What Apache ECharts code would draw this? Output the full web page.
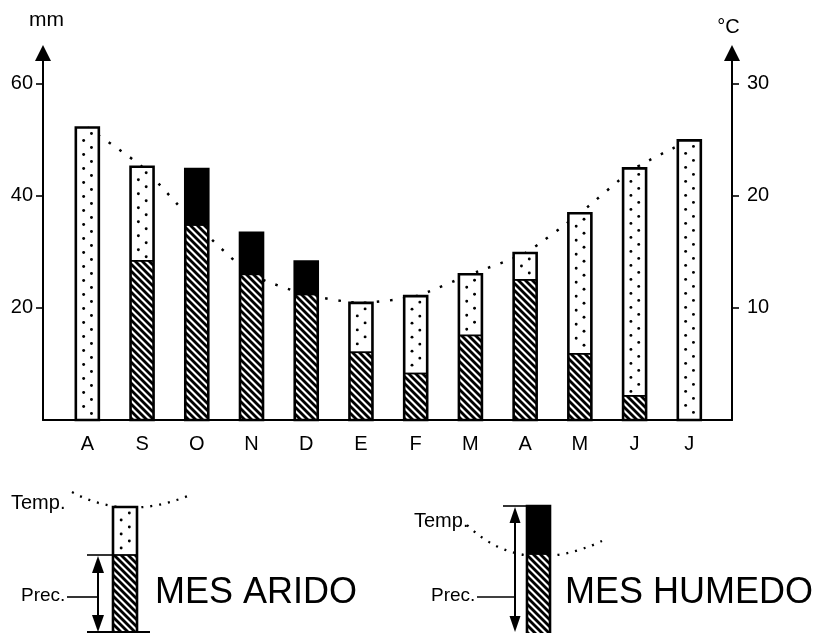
<!DOCTYPE html>
<html>
<head>
<meta charset="utf-8">
<script src="https://cdn.jsdelivr.net/npm/echarts@6/dist/echarts.min.js"></script>
<style>html,body{margin:0;padding:0;background:#fff}#c{width:815px;height:633px}</style>
</head>
<body>
<div id="c"></div>
<script>
// ---- data ----
const months = ['A','S','O','N','D','E','F','M','A','M','J','J'];
const precipitation = [0, 28.4, 44.8, 33.4, 28.3, 12.1, 8.3, 15.1, 25.0, 11.8, 4.3, 0];      // mm
const temperature = [26.1, 22.6, 17.4, 13.0, 11.2, 10.45, 11.05, 13.0, 14.9, 18.45, 22.45, 24.95]; // °C
const precTicks = [20, 40, 60];
const tempTicks = [10, 20, 30];
const legendTexts = { temp: 'Temp.', prec: 'Prec.', arid: 'MES ARIDO', humid: 'MES HUMEDO' };

const FONT = "'Liberation Sans', Arial, Helvetica, sans-serif";
const PREC_MAX = 65.5;           // left axis (mm)
const TEMP_MAX = PREC_MAX / 2;   // right axis (°C): Gaussen scale P = 2T
const BAR_W = 23;

function makeHatch() {
  const s = 7;
  const c = document.createElement('canvas');
  c.width = s; c.height = s;
  const g = c.getContext('2d');
  g.fillStyle = '#fff'; g.fillRect(0, 0, s, s);
  g.strokeStyle = '#000'; g.lineWidth = 2.8;
  for (const k of [-1, 0, 1]) {
    g.beginPath(); g.moveTo(k * s - 1, -1); g.lineTo(k * s + s + 1, s + 1); g.stroke();
  }
  return c;
}
const hatch = { image: makeHatch(), repeat: 'repeat' };

function dots(x0, w, yTop, yBottom) {
  const out = [];
  const cols = [x0 + w * 0.34, x0 + w * 0.68];
  let k = 0;
  for (let y = yTop + 6; y < yBottom - 2; y += 7, k++) {
    out.push({ type: 'circle', shape: { cx: cols[(k + 1) % 2], cy: y, r: 1.45 }, style: { fill: '#000' } });
  }
  return out;
}

function renderItem(params, api) {
  const i = api.value(0);
  const p = api.value(1);
  const t2 = api.value(2) * 2; // temperature expressed on the mm scale
  const base = api.coord([i, 0]);
  const x0 = base[0] - BAR_W / 2;
  const yBase = base[1];
  const yP = api.coord([i, p])[1];
  const yT = api.coord([i, t2])[1];
  const yTop = Math.min(yP, yT);
  const yMid = Math.max(yP, yT);
  const ch = [];
  ch.push({ type: 'rect', shape: { x: x0, y: yTop, width: BAR_W, height: yBase - yTop }, style: { fill: '#fff' } });
  if (p > 0) {
    ch.push({ type: 'rect', shape: { x: x0, y: yMid, width: BAR_W, height: yBase - yMid }, style: { fill: hatch } });
  }
  if (t2 > p) {
    ch.push(...dots(x0, BAR_W, yT, yP));
  } else {
    ch.push({ type: 'rect', shape: { x: x0, y: yP, width: BAR_W, height: yT - yP }, style: { fill: '#000' } });
  }
  if (p > 0) {
    ch.push({ type: 'line', shape: { x1: x0, y1: yMid, x2: x0 + BAR_W, y2: yMid }, style: { stroke: '#000', lineWidth: 1.8 } });
  }
  ch.push({ type: 'rect', shape: { x: x0, y: yTop, width: BAR_W, height: yBase - yTop }, style: { fill: null, stroke: '#000', lineWidth: 2.6 } });
  return { type: 'group', children: ch };
}

// ---- legend drawings ----
function legendBar(x, yTop, yMid, yBot, w, humid) {
  const els = [];
  els.push({ type: 'rect', shape: { x, y: yTop, width: w, height: yBot - yTop }, style: { fill: '#fff' }, z: 5 });
  els.push({ type: 'rect', shape: { x, y: yMid, width: w, height: yBot - yMid }, style: { fill: hatch }, z: 5 });
  if (humid) {
    els.push({ type: 'rect', shape: { x, y: yTop, width: w, height: yMid - yTop }, style: { fill: '#000' }, z: 5 });
  } else {
    dots(x, w, yTop, yMid).forEach(d => { d.z = 6; els.push(d); });
  }
  els.push({ type: 'line', shape: { x1: x, y1: yMid, x2: x + w, y2: yMid }, style: { stroke: '#000', lineWidth: 1.8 }, z: 6 });
  els.push({ type: 'rect', shape: { x, y: yTop, width: w, height: yBot - yTop + 4 }, style: { fill: null, stroke: '#000', lineWidth: 2.6 }, z: 7 });
  return els;
}
function dblArrow(x, y1, y2, hw, hh) {
  return [
    { type: 'line', shape: { x1: x, y1: y1 + hh - 2, x2: x, y2: y2 - hh + 2 }, style: { stroke: '#000', lineWidth: 2 }, z: 6 },
    { type: 'polygon', shape: { points: [[x, y1], [x - hw / 2, y1 + hh], [x + hw / 2, y1 + hh]] }, style: { fill: '#000' }, z: 6 },
    { type: 'polygon', shape: { points: [[x, y2], [x - hw / 2, y2 - hh], [x + hw / 2, y2 - hh]] }, style: { fill: '#000' }, z: 6 }
  ];
}
function txt(text, x, y, size) {
  return { type: 'text', x, y, z: 6, style: { text, fontSize: size, fontFamily: FONT, fill: '#000', verticalAlign: 'middle', align: 'left' } };
}
function hline(x1, x2, y, lw) {
  return { type: 'line', shape: { x1, y1: y, x2, y2: y }, style: { stroke: '#000', lineWidth: lw }, z: 6 };
}
const dotted = { stroke: '#000', lineWidth: 2.3, lineDash: [2, 7], fill: null };

const graphics = [].concat(
  // arid month
  [{ type: 'bezierCurve', shape: { x1: 72, y1: 492, cpx1: 125, cpy1: 521, x2: 188, y2: 496 }, style: dotted, z: 4 }],
  legendBar(113, 507, 555, 633, 24, false),
  [hline(87, 113, 555, 1.6), hline(87, 150, 632, 2.2), hline(67, 98, 597, 1.6)],
  dblArrow(98, 556, 632, 12, 17),
  [txt(legendTexts.temp, 11, 503, 20), txt(legendTexts.prec, 21, 596, 19), txt(legendTexts.arid, 155, 593, 36)],
  // humid month
  [{ type: 'bezierCurve', shape: { x1: 467, y1: 525, cpx1: 522, cpy1: 578, x2: 602, y2: 541 }, style: dotted, z: 4 }],
  legendBar(527, 506, 554, 633, 23, true),
  [hline(503, 527, 506, 1.6), hline(477, 515, 597, 1.6)],
  dblArrow(515, 507, 632, 11, 16),
  [txt(legendTexts.temp, 414, 521, 20), txt(legendTexts.prec, 431, 596, 19), txt(legendTexts.humid, 565, 593, 36)]
);

const chart = echarts.init(document.getElementById('c'));
chart.setOption({
  animation: false,
  backgroundColor: '#fff',
  grid: { left: 43, right: 83, top: 53, bottom: 213, containLabel: false, outerBoundsMode: 'none' },
  xAxis: {
    type: 'value', min: -0.81, max: 11.78,
    axisLine: { show: true, onZero: false, lineStyle: { color: '#000', width: 2.2 } },
    axisTick: { show: false },
    splitLine: { show: false },
    axisLabel: {
      customValues: months.map((m, i) => i),
      formatter: v => months[Math.round(v)] || '',
      color: '#000', fontSize: 20, fontFamily: FONT, margin: 14
    }
  },
  yAxis: [
    {
      type: 'value', min: 0, max: PREC_MAX, position: 'left',
      name: 'mm', nameLocation: 'end', nameGap: 22,
      nameTextStyle: { color: '#000', fontSize: 21, fontFamily: FONT, padding: [0, 0, 0, 7] },
      axisLine: { show: true, onZero: false, lineStyle: { color: '#000', width: 2 }, symbol: ['none', 'triangle'], symbolSize: [16, 16] },
      axisTick: { show: true, customValues: precTicks, length: 7, lineStyle: { color: '#000', width: 1.6 } },
      axisLabel: { customValues: precTicks, color: '#000', fontSize: 20, fontFamily: FONT, margin: 10 },
      splitLine: { show: false }
    },
    {
      type: 'value', min: 0, max: TEMP_MAX, position: 'right',
      name: '°C', nameLocation: 'end', nameGap: 16,
      nameTextStyle: { color: '#000', fontSize: 20, fontFamily: FONT, padding: [0, 7, 0, 0] },
      axisLine: { show: true, onZero: false, lineStyle: { color: '#000', width: 2 }, symbol: ['none', 'triangle'], symbolSize: [16, 16] },
      axisTick: { show: true, customValues: tempTicks, length: 7, lineStyle: { color: '#000', width: 1.6 } },
      axisLabel: { customValues: tempTicks, color: '#000', fontSize: 20, fontFamily: FONT, margin: 15 },
      splitLine: { show: false }
    }
  ],
  series: [
    {
      type: 'line', yAxisIndex: 1, z: 1, silent: true,
      data: temperature.map((t, i) => [i, t]),
      symbol: 'none', smooth: 0.2,
      lineStyle: { color: '#000', width: 2.5, type: [2.5, 10.5] }
    },
    {
      type: 'custom', yAxisIndex: 0, z: 3, silent: true, clip: false,
      data: months.map((m, i) => [i, precipitation[i], temperature[i]]),
      encode: { x: 0, y: 1 },
      renderItem
    }
  ],
  graphic: graphics
});
</script>
</body>
</html>
